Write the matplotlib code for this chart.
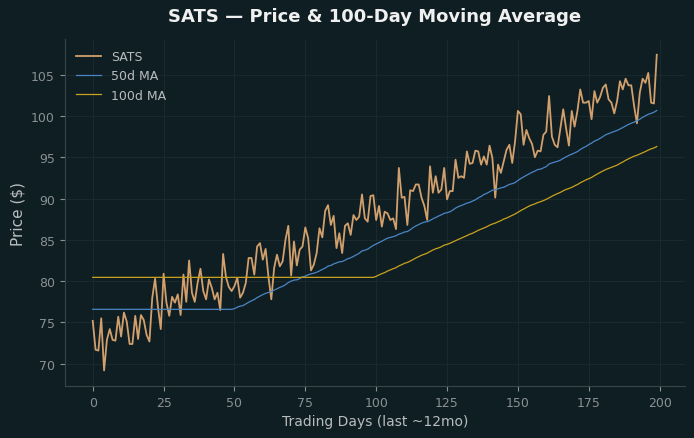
import pandas as pd
import matplotlib.pyplot as plt

# daily closing prices (day 0..199)
price = [
    75.2, 71.7, 71.6, 75.5, 69.2, 72.9, 74.2, 72.9, 72.8, 75.7,
    73.3, 76.2, 75.1, 72.4, 72.4, 75.8, 73.0, 75.9, 75.3, 73.5,
    72.7, 78.0, 80.3, 76.9, 74.2, 80.9, 77.4, 75.8, 78.1, 77.4,
    78.4, 75.9, 80.8, 77.5, 82.5, 78.6, 77.5, 79.8, 81.5, 78.8,
    77.8, 80.2, 79.2, 77.8, 78.6, 76.5, 83.3, 80.5, 79.3, 78.8,
    79.4, 80.4, 78.0, 78.6, 79.8, 82.8, 82.8, 80.8, 84.2, 84.6,
    82.6, 83.9, 80.5, 77.8, 81.6, 83.2, 81.8, 82.4, 85.0, 86.7,
    80.7, 84.8, 81.9, 83.8, 84.2, 86.5, 85.2, 81.3, 82.0, 83.4,
    86.4, 85.3, 88.5, 89.2, 86.8, 87.9, 84.0, 85.8, 83.4, 86.7,
    87.0, 85.6, 88.0, 87.4, 87.8, 90.5, 87.6, 87.2, 90.3, 90.4,
    87.4, 89.1, 86.6, 88.4, 88.2, 87.4, 87.6, 86.3, 93.7, 90.1,
    90.2, 86.8, 91.0, 90.9, 91.7, 91.7, 90.1, 89.1, 87.4, 93.9,
    90.7, 92.7, 90.7, 91.1, 93.7, 89.9, 90.9, 90.9, 94.7, 92.5,
    92.7, 92.5, 95.7, 94.2, 94.3, 95.8, 95.7, 94.1, 95.1, 94.1,
    96.4, 94.9, 90.1, 94.1, 93.1, 94.5, 95.9, 96.5, 94.3, 96.9,
    100.6, 100.2, 96.5, 98.3, 97.3, 96.6, 95.0, 95.8, 95.7, 97.7,
    98.1, 102.4, 97.5, 96.5, 96.2, 98.5, 100.8, 98.5, 96.4, 100.6,
    98.7, 100.6, 103.2, 101.6, 101.6, 101.8, 99.6, 103.0, 101.6, 102.3,
    103.4, 103.8, 102.0, 101.6, 100.3, 101.8, 104.2, 103.2, 104.5, 103.7,
    103.7, 101.2, 99.1, 102.8, 104.5, 104.0, 105.2, 101.6, 101.5, 107.4,
]

ticker = "SATS"
ma_windows = [50, 100]

df = pd.DataFrame({"close": price})
for w in ma_windows:
    df[f"ma{w}"] = df["close"].rolling(w).mean().bfill()

bg = "#0f1e23"
text_col = "#b8bcbf"

fig, ax = plt.subplots(figsize=(6.94, 4.39), dpi=100)
fig.patch.set_facecolor(bg)
ax.set_facecolor(bg)

ax.plot(df.index, df["close"], color="#d2a06c", lw=1.3, label=ticker)
ax.plot(df.index, df["ma50"], color="#4a86c5", lw=0.9, label="50d MA")
ax.plot(df.index, df["ma100"], color="#c9a21e", lw=0.9, label="100d MA")

ax.set_title(f"{ticker} \u2014 Price & 100-Day Moving Average",
             color="#f0f0f0", fontsize=13, fontweight="bold", pad=13)
ax.set_xlabel("Trading Days (last ~12mo)", color=text_col, fontsize=10)
ax.set_ylabel("Price ($)", color=text_col, fontsize=11)
ax.set_xticks(range(0, 201, 25))

ax.grid(True, color="#1c2c31", lw=0.6)
ax.tick_params(colors="#8a9094", labelsize=9)
for s in ["top", "right"]:
    ax.spines[s].set_visible(False)
for s in ["left", "bottom"]:
    ax.spines[s].set_color("#3a4549")

leg = ax.legend(loc="upper left", frameon=False, fontsize=9)
for t in leg.get_texts():
    t.set_color(text_col)

plt.subplots_adjust(left=0.093, right=0.987, top=0.909, bottom=0.118)
plt.savefig("out.png", facecolor=bg)
